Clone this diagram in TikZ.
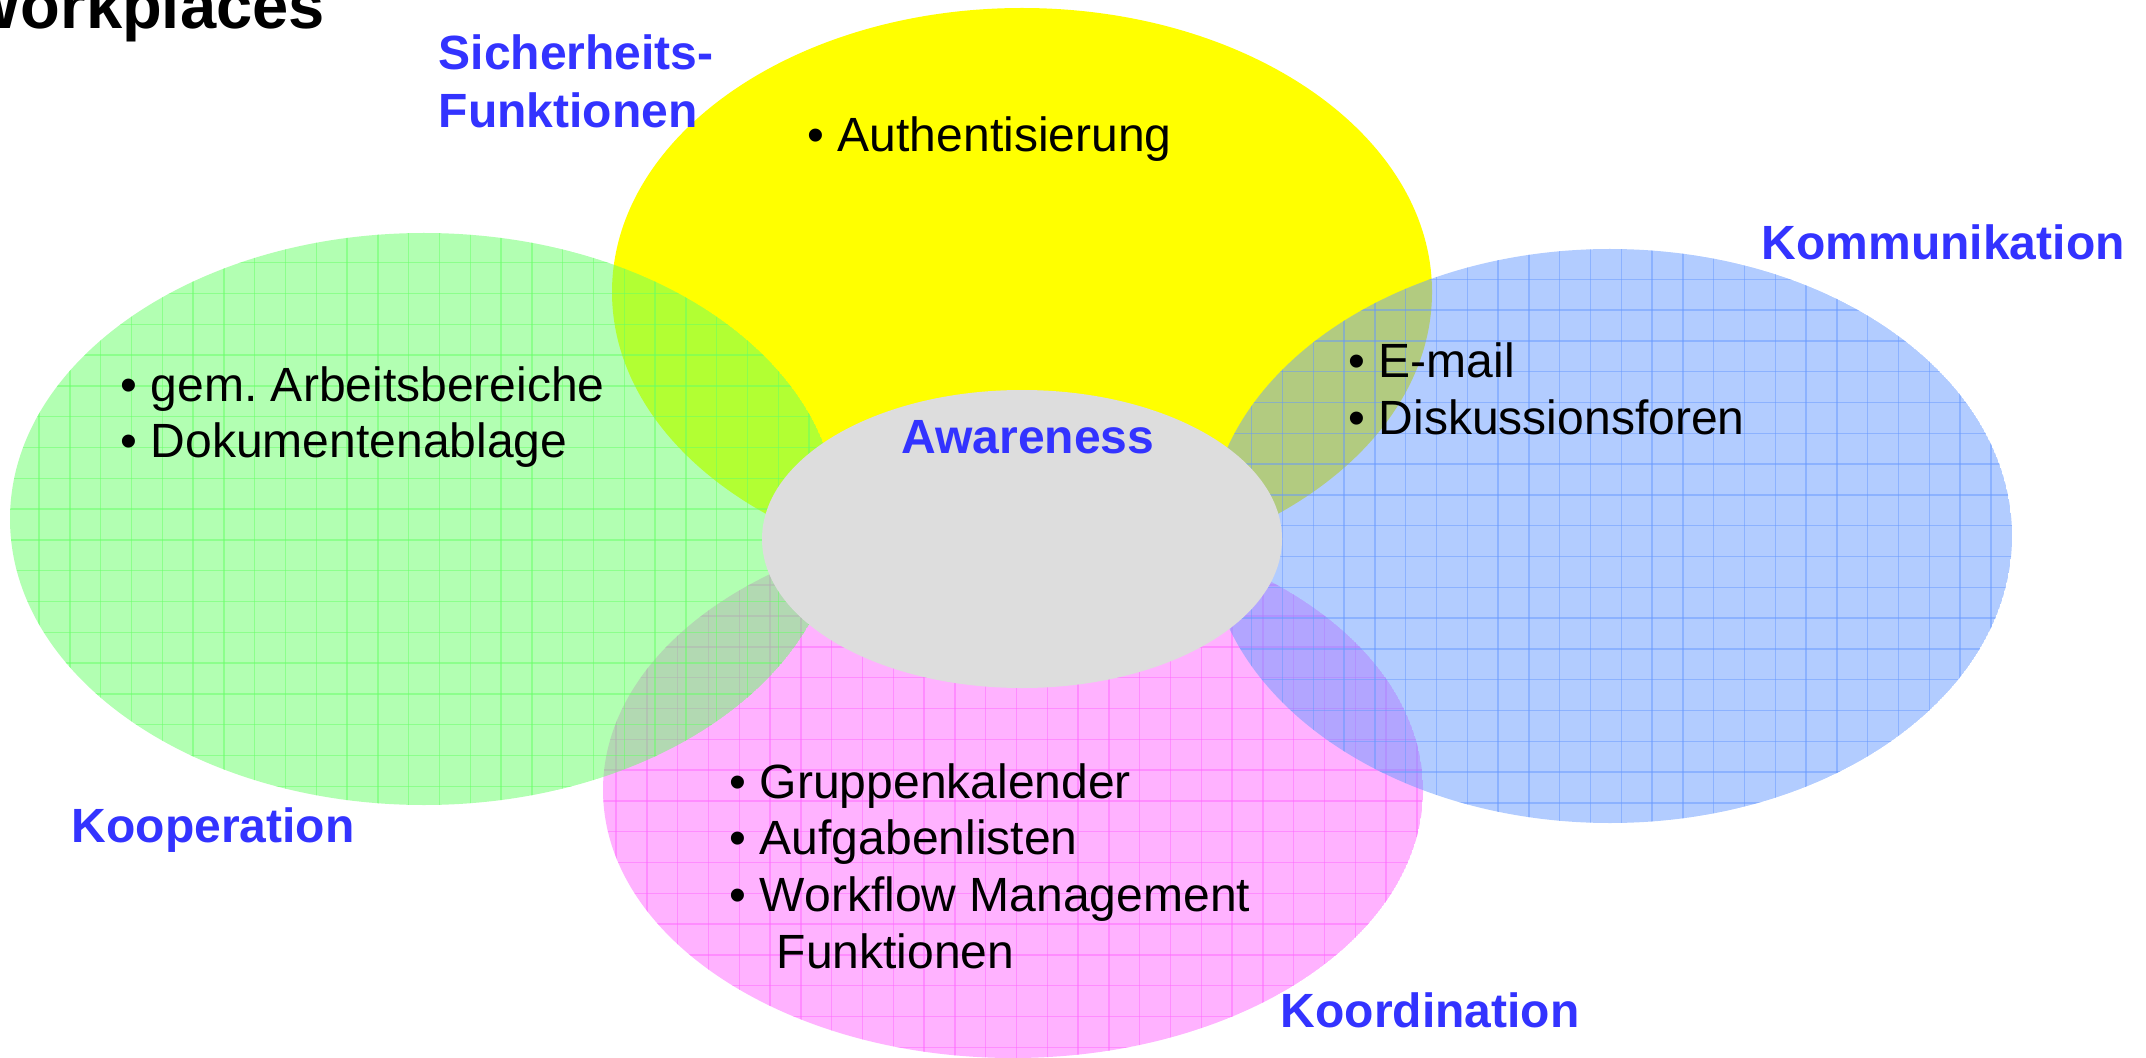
\documentclass[tikz,border=0pt]{standalone}
\usepackage{fontspec}
\setmainfont{Liberation Sans}
\usepackage{tikz}

\definecolor{kyellow}{RGB}{255,255,0}
\definecolor{kgreen}{RGB}{102,255,102}
\definecolor{kblue}{RGB}{102,153,255}
\definecolor{kpink}{RGB}{255,102,255}
\definecolor{kgray}{RGB}{221,221,221}
\definecolor{kheading}{RGB}{51,51,255}

\begin{document}
\frenchspacing
\begin{tikzpicture}[x=0.01cm, y=-0.01cm,
    item/.style={anchor=base west, inner sep=0pt, font=\fontsize{13.66}{16.2}\selectfont},
    area/.style={anchor=base west, inner sep=0pt, text=kheading, font=\fontsize{13.66}{16.2}\selectfont\bfseries},
    gridline/.style={line width=0.4pt, opacity=0.5}]
    \useasboundingbox (0,0) rectangle (2146,1058);
    \clip (0,0) rectangle (2146,1058);

    \coordinate (yel) at (1022,292);
    \coordinate (gre) at (424,519);
    \coordinate (blu) at (1610,536);
    \coordinate (pin) at (1013,790);
    \coordinate (gry) at (1022,539);

    % Koordination
    \begin{scope}
        \clip (pin) ellipse [x radius=410, y radius=268];
        \fill[kpink, opacity=0.5] (pin) ellipse [x radius=410, y radius=268];
        \foreach \i in {0,30.8,...,2146} {
            \draw[kpink, gridline] (\i,0) -- (\i,1058);
        }
        \foreach \j in {0,30.8,...,1058} {
            \draw[kpink, gridline] (0,\j) -- (2146,\j);
        }
    \end{scope}

    % Sicherheit
    \fill[kyellow] (yel) ellipse [x radius=410, y radius=284];

    % Kooperation
    \begin{scope}
        \clip (gre) ellipse [x radius=414, y radius=286];
        \fill[kgreen, opacity=0.5] (gre) ellipse [x radius=414, y radius=286];
        \foreach \i in {8.3,39.1,...,2146} {
            \draw[kgreen, gridline] (\i,0) -- (\i,1058);
        }
        \foreach \j in {16.3,47.1,...,1058} {
            \draw[kgreen, gridline] (0,\j) -- (2146,\j);
        }
    \end{scope}

    % Kommunikation
    \begin{scope}
        \clip (blu) ellipse [x radius=402, y radius=287];
        \fill[kblue, opacity=0.5] (blu) ellipse [x radius=402, y radius=287];
        \foreach \i in {19.7,50.5,...,2146} {
            \draw[kblue, gridline] (\i,0) -- (\i,1058);
        }
        \foreach \j in {2.1,32.9,...,1058} {
            \draw[kblue, gridline] (0,\j) -- (2146,\j);
        }
    \end{scope}

    % Awareness
    \fill[kgray] (gry) ellipse [x radius=260, y radius=149];

    \node[anchor=base west, inner sep=0pt, font=\fontsize{18.5}{22}\selectfont\bfseries] (title) at (-40,29) {Workplaces};

    \node[area] (sich1) at (438,70) {Sicherheits-};
    \node[area] (sich2) at (438,128) {Funktionen};
    \node[area] (komm) at (1761,260) {Kommunikation};
    \node[area] (koop) at (71,842) {Kooperation};
    \node[area] (koord) at (1280,1027) {Koordination};
    \node[area, anchor=base] (aware) at (1028,453) {Awareness};

    \node[item] (auth) at (807,152) {• Authentisierung};
    \node[item] (gem) at (120,401) {• gem. Arbeitsbereiche};
    \node[item] (dok) at (120,458) {• Dokumentenablage};
    \node[item] (mail) at (1348,378) {• E-mail};
    \node[item] (disk) at (1348,435) {• Diskussionsforen};
    \node[item] (grp) at (729,798) {• Gruppenkalender};
    \node[item] (aufg) at (729,854) {• Aufgabenlisten};
    \node[item] (wfm) at (729,911) {• Workflow Management};
    \node[item] (fkt) at (776,968) {Funktionen};
\end{tikzpicture}
\end{document}
